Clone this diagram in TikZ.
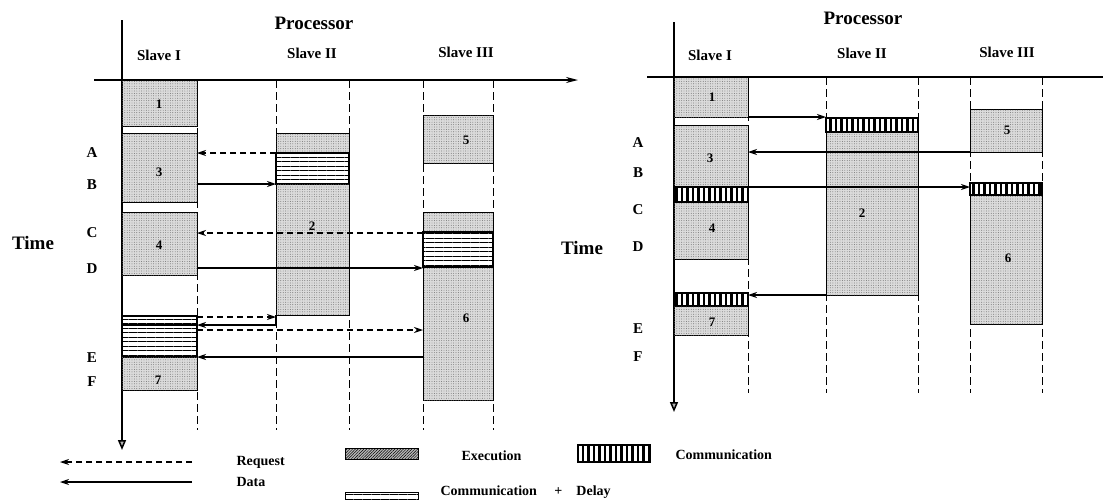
\documentclass[tikz,border=0pt]{standalone}
\usepackage{fontspec}
\setmainfont{Liberation Serif}
\usetikzlibrary{arrows.meta,patterns.meta}

\tikzset{
  exec/.style={draw, line width=1pt, fill=gray!28,
    postaction={pattern={Dots[distance=2.4pt,radius=0.45pt]}, pattern color=black!60}},
  cdelay/.style={draw, line width=1.5pt, fill=white,
    postaction={pattern={Lines[distance=4.5pt,line width=0.9pt]}}},
  comm/.style={draw, line width=1.3pt, fill=white,
    postaction={pattern={Lines[angle=90,distance=5.5pt,line width=2.4pt]}}},
  colline/.style={line width=0.9pt, dash pattern=on 8pt off 4pt},
  axis/.style={line width=1.5pt},
  req/.style={line width=1.2pt, dash pattern=on 6pt off 4pt, -{Stealth[length=9pt,width=6pt]}},
  dat/.style={line width=1.2pt, -{Stealth[length=9pt,width=6pt]}},
  title/.style={font=\bfseries\fontsize{19}{19}\selectfont},
  slave/.style={font=\bfseries\fontsize{15}{15}\selectfont},
  timelbl/.style={font=\bfseries\fontsize{19}{19}\selectfont},
  evt/.style={font=\bfseries\fontsize{15}{15}\selectfont},
  num/.style={font=\bfseries\fontsize{13}{13}\selectfont},
  leg/.style={font=\bfseries\fontsize{14}{14}\selectfont, anchor=west}
}

\begin{document}
\begin{tikzpicture}[x=1pt,y=-1pt]
    \useasboundingbox (0,0) rectangle (1103,499);

    % 左图: 列边界
    \draw[colline] (197,80) -- (197,430);
    \draw[colline] (276,80) -- (276,430);
    \draw[colline] (349,80) -- (349,430);
    \draw[colline] (423,80) -- (423,430);
    \draw[colline] (493,80) -- (493,430);

    % 左图: 坐标轴
    \draw[axis, -{Stealth[length=12pt,width=6pt]}] (94,80) -- (578,80);
    \draw[axis, -{Triangle[length=10pt,width=8pt,fill=gray!60]}] (122,20) -- (122,450);

    % 左图: Slave I
    \draw[exec] (122,80) rectangle (197,126);
    \draw[exec] (122,133) rectangle (197,202);
    \draw[exec] (122,212) rectangle (197,275);
    \draw[cdelay] (122,316) rectangle (197,357);
    \draw[line width=2pt] (122,325) -- (197,325);
    \draw[exec] (122,357) rectangle (197,390);

    % 左图: Slave II
    \draw[exec] (276,133) rectangle (349,153);
    \draw[cdelay] (276,153) rectangle (349,184);
    \draw[exec] (276,184) rectangle (349,315);

    % 左图: Slave III
    \draw[exec] (423,115) rectangle (493,163);
    \draw[exec] (423,212) rectangle (493,232);
    \draw[cdelay] (423,232) rectangle (493,267);
    \draw[exec] (423,267) rectangle (493,400);

    % 任务编号
    \node[num] (n1L) at (159,104) {1};
    \node[num] (n3L) at (159,172) {3};
    \node[num] (n4L) at (159,245) {4};
    \node[num] (n7L) at (158,380) {7};
    \node[num] (n2L) at (312,226) {2};
    \node[num] (n5L) at (466,140) {5};
    \node[num] (n6L) at (466,318) {6};

    % 左图: 消息
    \coordinate (LA1) at (197,153);
    \coordinate (LA2) at (276,153);
    \coordinate (LB1) at (197,184);
    \coordinate (LB2) at (276,184);
    \coordinate (LC1) at (197,233);
    \coordinate (LC2) at (423,233);
    \coordinate (LD1) at (197,268);
    \coordinate (LD2) at (423,268);
    \coordinate (LE1) at (197,317);
    \coordinate (LE2) at (276,317);
    \coordinate (LF1) at (197,325);
    \coordinate (LF2) at (276,325);
    \coordinate (LG1) at (197,330);
    \coordinate (LG2) at (423,330);
    \coordinate (LH1) at (197,357);
    \coordinate (LH2) at (423,357);
    \draw[req] (LA2) -- (LA1);
    \draw[dat] (LB1) -- (LB2);
    \draw[req] (LC2) -- (LC1);
    \draw[dat] (LD1) -- (LD2);
    \draw[req] (LE1) -- (LE2);
    \draw[dat] (276,315) -- (LF2) -- (LF1);
    \draw[req] (LG1) -- (LG2);
    \draw[dat] (LH2) -- (LH1);

    % 左图: 标注
    \node[title] (procL) at (314,23) {Processor};
    \node[slave] (s1L) at (159,55) {Slave I};
    \node[slave] (s2L) at (312,53) {Slave II};
    \node[slave] (s3L) at (466,52) {Slave III};
    \node[timelbl] (timeL) at (33,243) {Time};
    \node[evt] (aL) at (92,153) {A};
    \node[evt] (bL) at (92,185) {B};
    \node[evt] (cL) at (92,233) {C};
    \node[evt] (dL) at (92,269) {D};
    \node[evt] (eL) at (92,358) {E};
    \node[evt] (fL) at (92,382) {F};

    % 右图: 列边界
    \draw[colline] (748,77) -- (748,393);
    \draw[colline] (826,77) -- (826,393);
    \draw[colline] (918,77) -- (918,393);
    \draw[colline] (970,77) -- (970,393);
    \draw[colline] (1042,77) -- (1042,393);

    % 右图: 坐标轴
    \draw[axis] (647,77) -- (1103,77);
    \draw[axis, -{Triangle[length=10pt,width=8pt,fill=gray!60]}] (674,22) -- (674,412);

    % 右图: Slave I
    \draw[exec] (674,77) rectangle (748,117);
    \draw[exec] (674,125) rectangle (748,187);
    \draw[comm] (674,187) rectangle (748,202);
    \draw[exec] (674,202) rectangle (748,259);
    \draw[comm] (674,293) rectangle (748,306);
    \draw[exec] (674,306) rectangle (748,335);

    % 右图: Slave II
    \draw[comm] (826,118) rectangle (918,132);
    \draw[exec] (826,132) rectangle (918,295);

    % 右图: Slave III
    \draw[exec] (970,109) rectangle (1042,152);
    \draw[comm] (970,183) rectangle (1042,195);
    \draw[exec] (970,195) rectangle (1042,324);

    % 任务编号
    \node[num] (n1R) at (712,97) {1};
    \node[num] (n3R) at (710,158) {3};
    \node[num] (n4R) at (712,228) {4};
    \node[num] (n7R) at (712,322) {7};
    \node[num] (n2R) at (862,213) {2};
    \node[num] (n5R) at (1007,130) {5};
    \node[num] (n6R) at (1008,258) {6};

    % 右图: 消息
    \coordinate (RA1) at (748,117);
    \coordinate (RA2) at (826,117);
    \coordinate (RB1) at (748,152);
    \coordinate (RB2) at (970,152);
    \coordinate (RC1) at (748,187);
    \coordinate (RC2) at (970,187);
    \coordinate (RD1) at (748,295);
    \coordinate (RD2) at (826,295);
    \draw[dat] (RA1) -- (RA2);
    \draw[dat] (RB2) -- (RB1);
    \draw[dat] (RC1) -- (RC2);
    \draw[dat] (RD2) -- (RD1);

    % 右图: 标注
    \node[title] (procR) at (863,18) {Processor};
    \node[slave] (s1R) at (710,55) {Slave I};
    \node[slave] (s2R) at (862,53) {Slave II};
    \node[slave] (s3R) at (1007,52) {Slave III};
    \node[timelbl] (timeR) at (582,248) {Time};
    \node[evt] (aR) at (638,143) {A};
    \node[evt] (bR) at (638,173) {B};
    \node[evt] (cR) at (638,210) {C};
    \node[evt] (dR) at (638,247) {D};
    \node[evt] (eR) at (638,329) {E};
    \node[evt] (fR) at (638,357) {F};

    % 图例
    \coordinate (reqS) at (192,462);
    \coordinate (reqE) at (60,462);
    \coordinate (datS) at (192,482);
    \coordinate (datE) at (60,482);
    \draw[req] (reqS) -- (reqE);
    \draw[dat] (datS) -- (datE);
    \node[leg] (reqT) at (233,462) {Request};
    \node[leg] (datT) at (233,482) {Data};
    \draw[line width=1pt, fill=gray!55,
      postaction={pattern={Lines[angle=45,distance=2pt,line width=0.5pt]}}] (345,448) rectangle (418,459);
    \node[leg] (execT) at (458,456) {Execution};
    \draw[cdelay, line width=1pt] (345,492) rectangle (418,503);
    \node[leg] (cdT) at (437,492) {Communication \quad+\quad Delay};
    \draw[comm] (578,445) rectangle (650,462);
    \node[leg] (commT) at (672,455) {Communication};
\end{tikzpicture}
\end{document}
